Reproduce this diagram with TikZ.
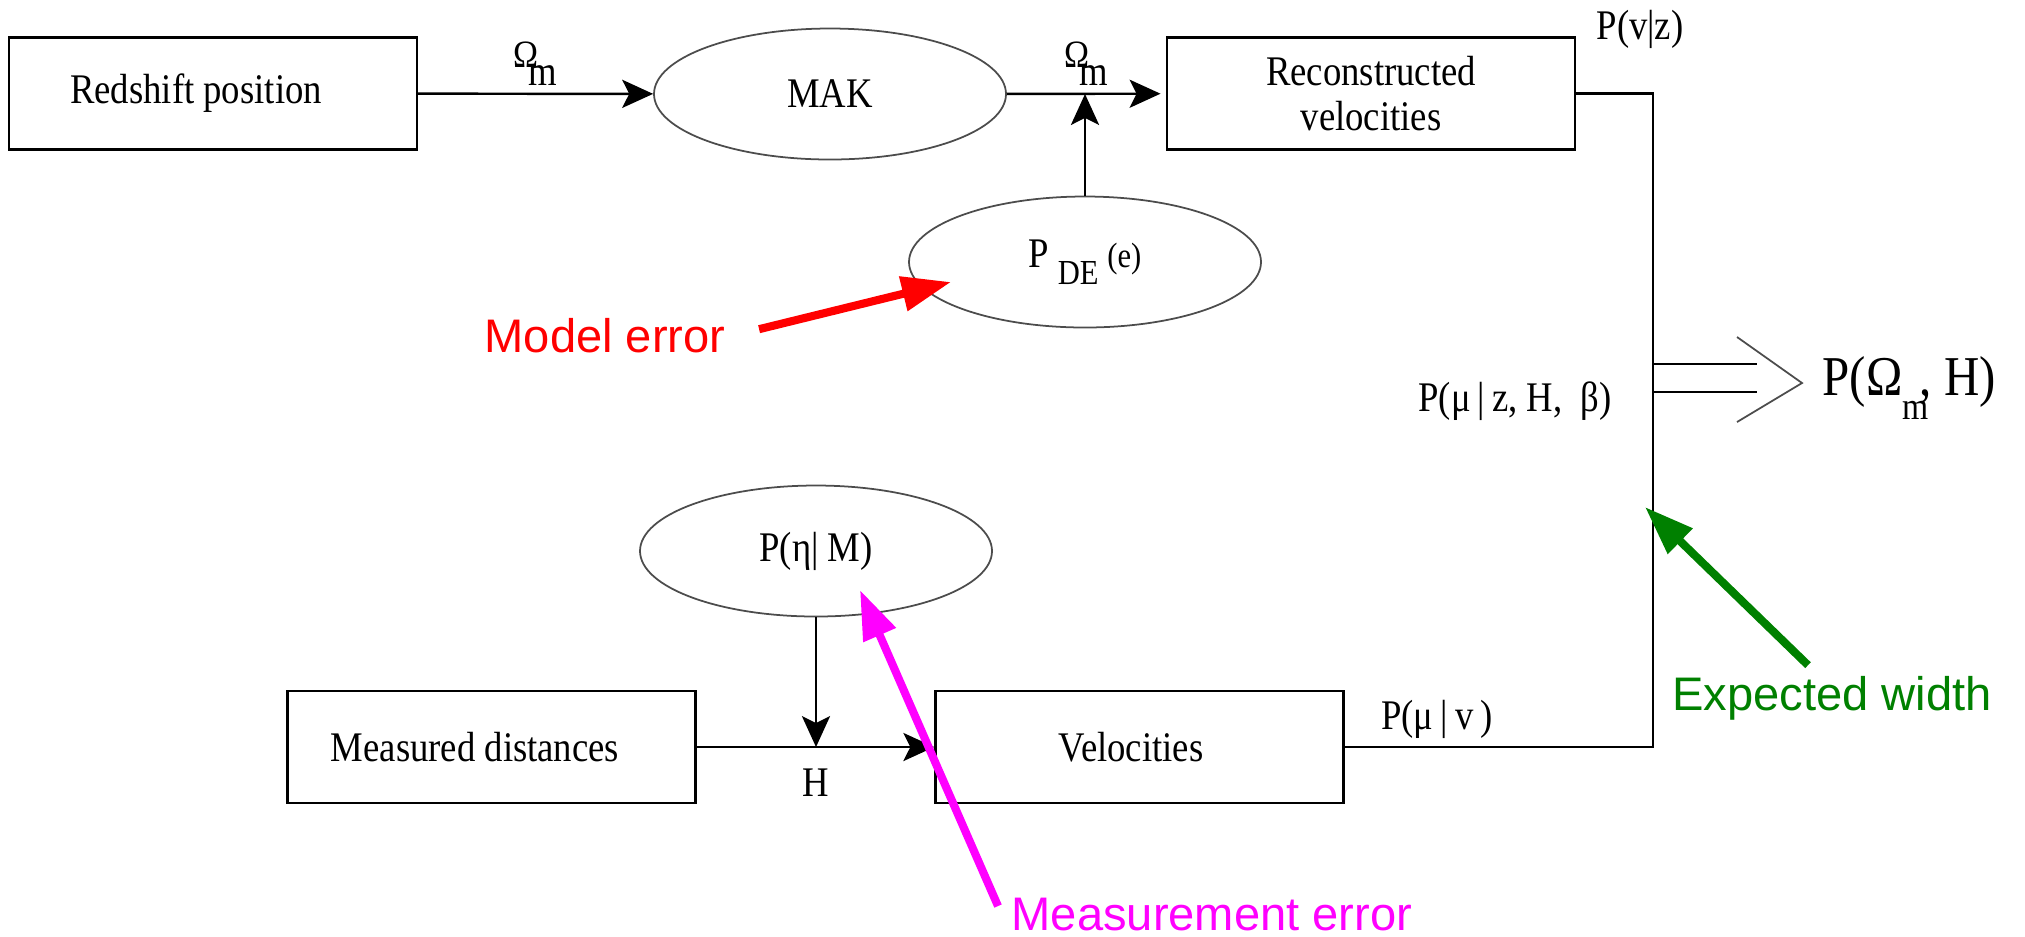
\documentclass[tikz,border=0pt]{standalone}
\usepackage{fontspec}
\setmainfont{Liberation Serif}[FakeStretch=0.87]
\newfontfamily\notefont{Liberation Sans}
\usetikzlibrary{arrows.meta,shapes.geometric}
\definecolor{notegreen}{RGB}{0,128,0}
\definecolor{notered}{RGB}{255,0,0}
\definecolor{notemagenta}{RGB}{255,0,255}
\newcommand{\Omlabel}{{\fontsize{11}{11}\selectfont Ω}\kern-2.8pt\raisebox{-5pt}{m}}

\begin{document}
\begin{tikzpicture}[x=0.1mm, y=-0.1mm, every node/.style={font=\fontsize{12}{12.8}\selectfont}, >={Stealth[length=8.8pt, width=8pt, inset=2pt]}, blk/.style={draw, line width=0.7pt, minimum width=40.8mm, minimum height=11.2mm, inner sep=0pt}, oval/.style={draw=black!70, ellipse, line width=0.5pt, minimum width=35.2mm, minimum height=13.1mm, inner sep=0pt}, wire/.style={line width=0.7pt}, note/.style={font=\notefont\fontsize{13.4}{15}\selectfont, inner sep=0pt, anchor=base}, pointer/.style={line width=2.3pt, -{Triangle[length=14pt, width=9.6pt]}}]
	\useasboundingbox (0,0) rectangle (2025,936);
	\node[blk] (redshift) at (213,93.5) {Redshift position\kern3.4mm};
	\node[oval] (mak) at (830,94) {MAK};
	\node[blk, align=center] (recon) at (1371,93.5) {Reconstructed\\velocities};
	\node[oval] (pde) at (1085,262) {P\kern2.5pt\raisebox{-4.8pt}{\fontsize{10}{10}\selectfont DE}\kern2.5pt{\fontsize{10}{10}\selectfont(e)}};
	\node[oval] (eta) at (816,551) {P(η| M)};
	\node[blk] (meas) at (491.5,747) {Measured distances\kern3.3mm};
	\node[blk] (vel) at (1139.5,747) {Velocities\kern1.7mm};
	\draw[wire, ->] (redshift) -- (mak) node[midway, above, inner sep=2pt] {\Omlabel};
	\draw[wire, ->, shorten >=1.5pt] (mak) -- (recon) node[midway, above, inner sep=2pt] {\Omlabel};
	\draw[wire, ->] (pde) -- (pde |- mak.east);
	\draw[wire, ->] (eta) -- (eta |- meas.east);
	\draw[wire, ->] (meas) -- (vel) node[midway, below, inner sep=6pt] {H};
	\coordinate (trunktop) at (1653,93.5);
	\coordinate (trunkbot) at (1653,747);
	\draw[wire] (recon.east) -- (trunktop) -- (trunkbot) -- (vel.east);
	\node (pvz) at (1640,29) {P(v|z)};
	\node (pmuz) at (1515,401) {P(μ\,|\,z, H,\ \ β)};
	\node (pmuv) at (1437,719) {P(μ\,|\,v\,)};
	\coordinate (fork) at (1653,378);
	\draw[wire] (fork) ++(0,-14) -- ++(104,0);
	\draw[wire] (fork) ++(0,14) -- ++(104,0);
	\draw[black!70, line width=0.5pt] (fork) ++(84,-41) -- ++(65,46) -- ++(-65,39);
	\node[font=\fontsize{16}{16}\selectfont, anchor=base west, inner sep=0pt] (post) at (1822,395) {P(Ω\raisebox{-7pt}{\fontsize{11}{11}\selectfont m}\kern-2.5pt, H)};
	\node[note, notered] (modelerr) at (605,352) {Model error};
	\node[note, notegreen] (expw) at (1832,710) {Expected width};
	\node[note, notemagenta, anchor=base west] (measerr) at (1011,930) {Measurement error};
	\coordinate (modeltip) at (951,282);
	\coordinate (widthtip) at (1645,507);
	\coordinate (measuretip) at (860,590);
	\draw[pointer, notered] (modelerr.east) ++(33,-6) -- (modeltip);
	\draw[pointer, notegreen] (expw.north) ++(-24,-10) -- (widthtip);
	\draw[pointer, notemagenta] (measerr.west) ++(-13,-8) -- (measuretip);
\end{tikzpicture}
\end{document}
